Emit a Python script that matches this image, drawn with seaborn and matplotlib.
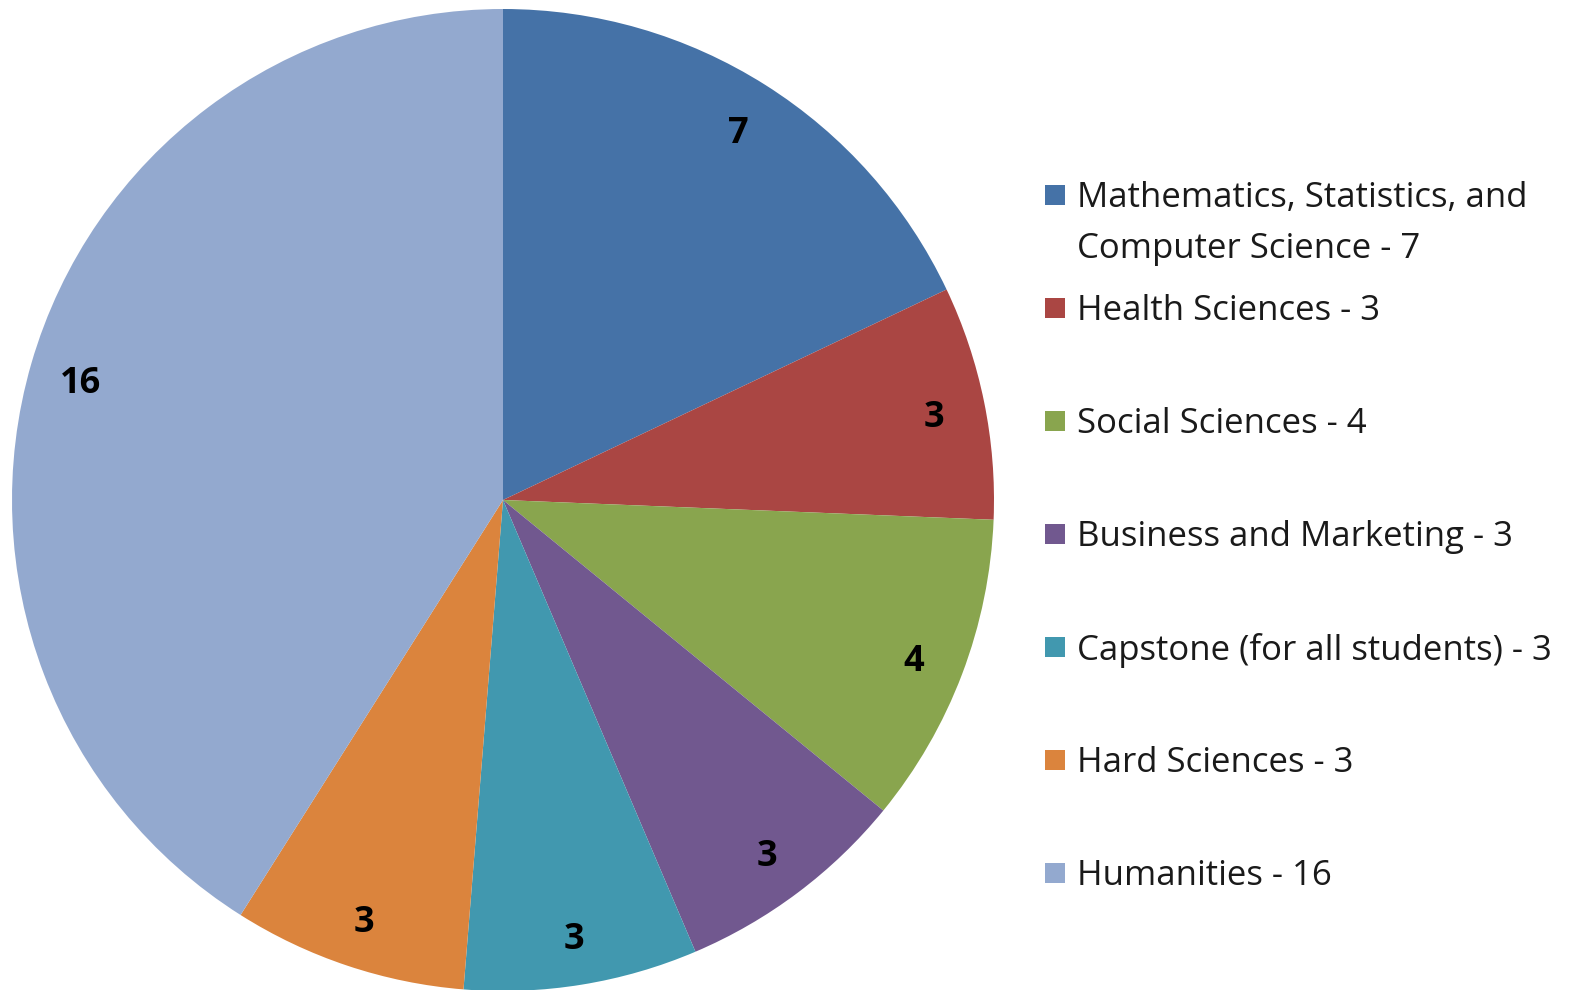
import matplotlib
matplotlib.use("Agg")
import matplotlib.pyplot as plt
import seaborn as sns
from matplotlib.patches import Rectangle

# --- DATA ---
categories = [
    "Mathematics, Statistics, and\nComputer Science",
    "Health Sciences",
    "Social Sciences",
    "Business and Marketing",
    "Capstone (for all students)",
    "Hard Sciences",
    "Humanities",
]
counts = [7, 3, 4, 3, 3, 3, 16]
slice_colors = ["#4572A7", "#AA4643", "#89A54E", "#71588F", "#4198AF", "#DB843D", "#93A9CF"]

# --- STYLE ---
sns.set_theme(style="white")
plt.rcParams['font.family'] = ['Open Sans', 'DejaVu Sans']

W, H = 1595, 990
fig = plt.figure(figsize=(W / 100, H / 100), dpi=100)

# pie area (pixel box -> figure fraction)
cx, cy, r = 503, 500, 491
ax = fig.add_axes([(cx - r) / W, 1 - (cy + r) / H, 2 * r / W, 2 * r / H])

palette = sns.color_palette(slice_colors)
total = sum(counts)
wedges, _, autotexts = ax.pie(
    counts,
    colors=palette,
    startangle=90,
    counterclock=False,
    radius=1.0,
    autopct=lambda p: f"{round(p * total / 100)}",
    pctdistance=0.895,
    wedgeprops=dict(linewidth=0),
    textprops=dict(fontsize=26, fontweight='bold', color='black'),
)
# nudge value labels slightly down, like the spreadsheet rendering
for t in autotexts:
    x, y = t.get_position()
    t.set_position((x, y - 0.012))

ax.set_xlim(-1, 1)
ax.set_ylim(-1, 1)
ax.set_aspect('equal')
ax.axis('off')

# --- LEGEND (drawn by hand to mimic spreadsheet layout) ---
y0, step = 195, 113
for i, (name, n, col) in enumerate(zip(categories, counts, palette)):
    y = y0 + step * i
    fig.add_artist(Rectangle((1045 / W, 1 - (y + 10) / H), 20 / W, 20 / H,
                             transform=fig.transFigure, color=col, lw=0))
    lines = f"{name} - {n}".split("\n")
    for j, line in enumerate(lines):
        fig.text(1077 / W, 1 - (y + 3 + 51 * j) / H, line, fontsize=25,
                 va='center', ha='left', color='#1a1a1a')

fig.savefig("out.png", dpi=100)
